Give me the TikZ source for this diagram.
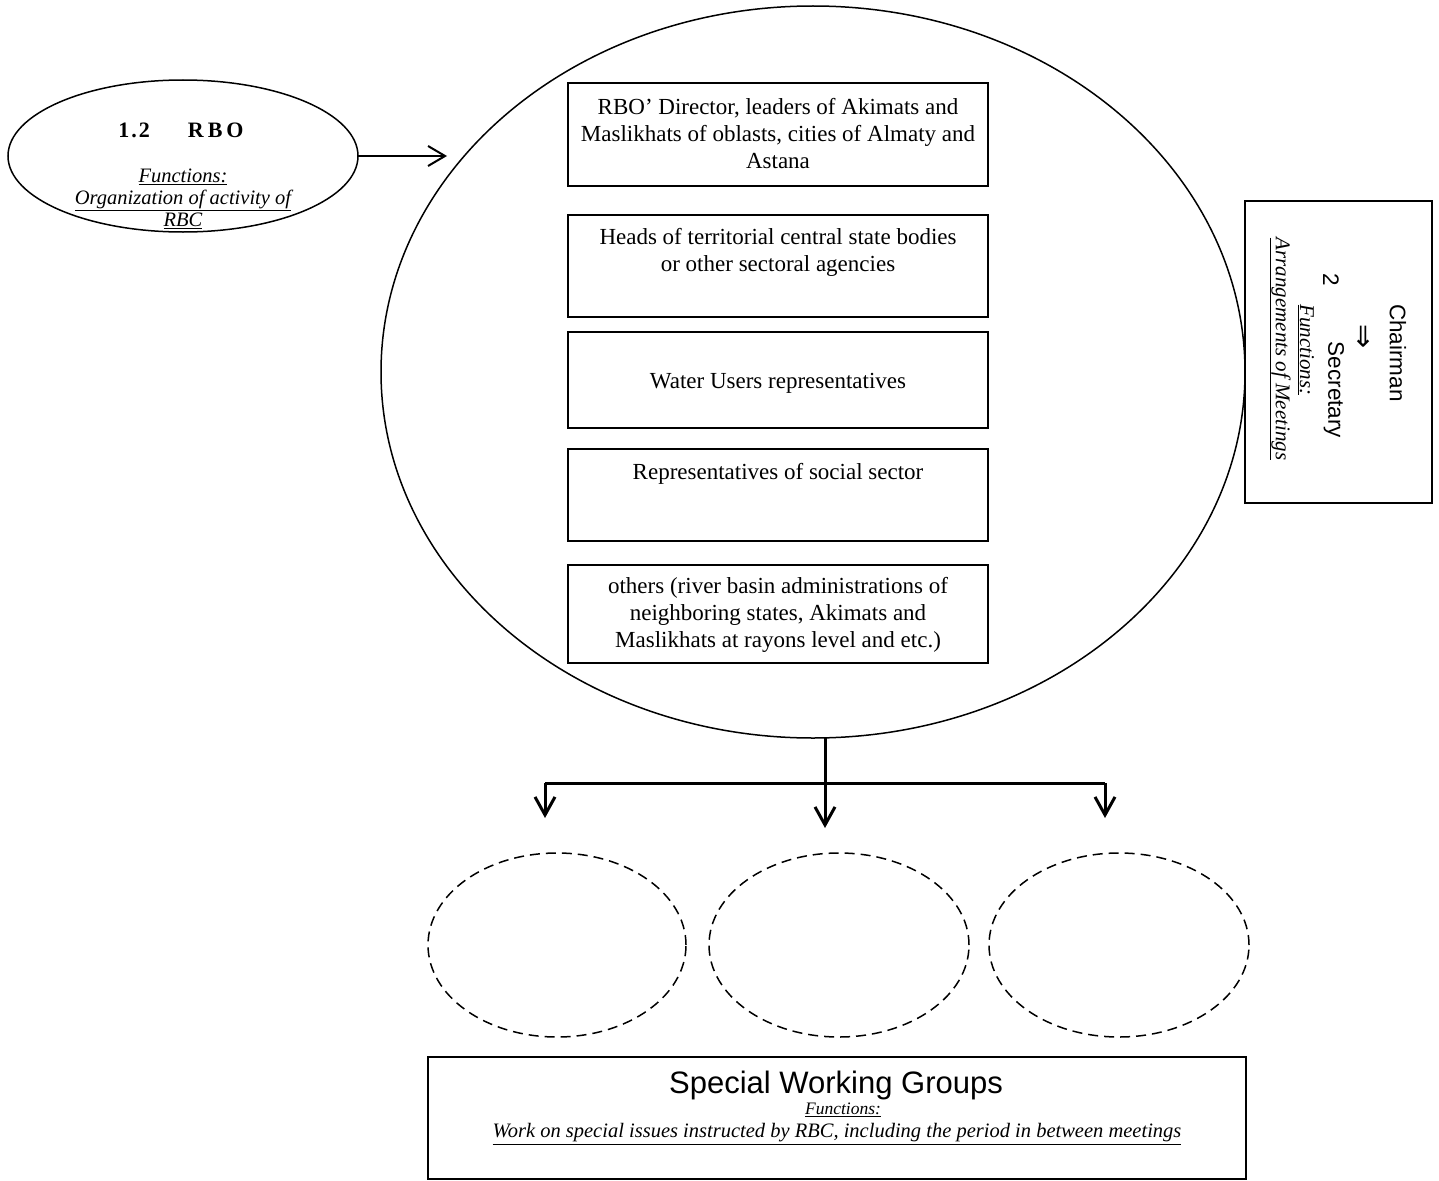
\documentclass[tikz,border=0pt]{standalone}
\usepackage{fontspec}
\setmainfont{Liberation Serif}
\newfontfamily\arialf{Liberation Sans}
\newfontfamily\dejavuf{DejaVu Sans}
\usetikzlibrary{shapes.geometric,arrows.meta}
\begin{document}
\begin{tikzpicture}[x=1pt,y=-1pt,
  every node/.style={inner sep=0pt,outer sep=0pt},
  boxnode/.style={draw,line width=1.8pt,minimum width=420pt},
  boxtext/.style={align=center,font=\fontsize{23}{27}\selectfont},
  oval/.style={draw,ellipse,line width=1.5pt},
  dashoval/.style={draw,ellipse,line width=1.5pt,dash pattern=on 10pt off 6pt,minimum width=260pt,minimum height=184pt},
  treeline/.style={line width=3pt},
  treearrow/.style={line width=3pt,-{Straight Barb[length=18pt,width=20pt]}},
  itf/.style={font=\fontsize{20.5}{22}\selectfont\itshape,align=center}
]
\useasboundingbox (0,0) rectangle (1439,1180);
\fill[white] (0,0) rectangle (1439,1180);

% left ellipse RBO
\node[oval,minimum width=350pt,minimum height=152pt] (rbo) at (183,156) {};
\node[font=\fontsize{22}{24}\selectfont\bfseries] (rbotitle) at (181,130) {1\kern2pt.\kern2pt2\hspace{38pt}R\kern4pt B\kern4pt O};
\node[itf] (rbofn) at (183,199) {\underline{Functions:}\\\underline{Organization of activity of}\\\underline{RBC}};

% big ellipse
\node[oval,minimum width=864pt,minimum height=732pt] (big) at (813,372) {};

% arrow RBO -> big ellipse
\coordinate (rbotip) at (447,156);
\draw[line width=2pt,-{Straight Barb[length=17pt,width=20pt]}] (rbo.east) -- (rbotip);

% member boxes
\node[boxnode,minimum height=103pt] (b1) at (778,134.5) {};
\node[boxtext] (t1) at (778,134) {RBO’ Director, leaders of Akimats and\\Maslikhats of oblasts, cities of Almaty and\\Astana};
\node[boxnode,minimum height=102pt] (b2) at (778,266) {};
\node[boxtext] (t2) at (778,252.5) {Heads of territorial central state bodies\\or other sectoral agencies};
\node[boxnode,minimum height=96pt] (b3) at (778,380) {};
\node[boxtext] (t3) at (778,383) {Water Users representatives};
\node[boxnode,minimum height=92pt] (b4) at (778,495) {};
\node[boxtext] (t4) at (778,474) {Representatives of social sector};
\node[boxnode,minimum height=98pt] (b5) at (778,614) {};
\node[boxtext] (t5) at (778,615) {others (river basin administrations of\\neighboring states, Akimats and\\Maslikhats at rayons level and etc.)};

% chairman box
\node[draw,line width=1.8pt,minimum width=187pt,minimum height=302pt,anchor=north west] (chair) at (1245,201) {};
\node[rotate=-90,font=\arialf\fontsize{22.5}{26}\selectfont] (chairman) at (1398,353) {Chairman};
\node[rotate=-90,scale=2.4,font=\dejavuf\fontsize{12}{14}\selectfont] (chairarrow) at (1362,337) {⇒};
\node[rotate=-90,font=\arialf\fontsize{22.5}{26}\selectfont] (two) at (1331,280) {2};
\node[rotate=-90,font=\arialf\fontsize{22.5}{26}\selectfont] (secretary) at (1334,390) {Secretary};
\node[rotate=-90,font=\fontsize{21}{24}\selectfont\itshape] (chairfn) at (1306,350) {\underline{Functions:}};
\node[rotate=-90,font=\fontsize{21}{24}\selectfont\itshape] (chairarr) at (1280,349) {\underline{Arrangements of Meetings}};

% tree to working groups
\coordinate (t0) at (825,737);
\coordinate (tl) at (545,783);
\coordinate (tr) at (1105,783);
\coordinate (al) at (545,818);
\coordinate (am) at (825,828);
\coordinate (ar) at (1105,818);
\draw[treearrow] (t0) -- (am);
\draw[treeline] (tl) -- (tr);
\draw[treearrow] (tl) -- (al);
\draw[treearrow] (tr) -- (ar);

% dashed ovals
\node[dashoval,minimum width=258pt] (g1) at (557,945) {};
\node[dashoval] (g2) at (839,945) {};
\node[dashoval] (g3) at (1119,945) {};

% special working groups box
\node[draw,line width=1.8pt,minimum width=818pt,minimum height=122pt,anchor=north west] (swg) at (428,1057) {};
\node[font=\arialf\fontsize{31}{34}\selectfont] (swgtitle) at (836,1085) {Special Working Groups};
\node[font=\fontsize{17.5}{20}\selectfont\itshape] (swgfn) at (843,1110) {\underline{Functions:}};
\node[font=\fontsize{20.5}{22}\selectfont\itshape] (swgtxt) at (837,1134) {\underline{Work on special issues instructed by RBC, including the period in between meetings}};
\end{tikzpicture}
\end{document}
